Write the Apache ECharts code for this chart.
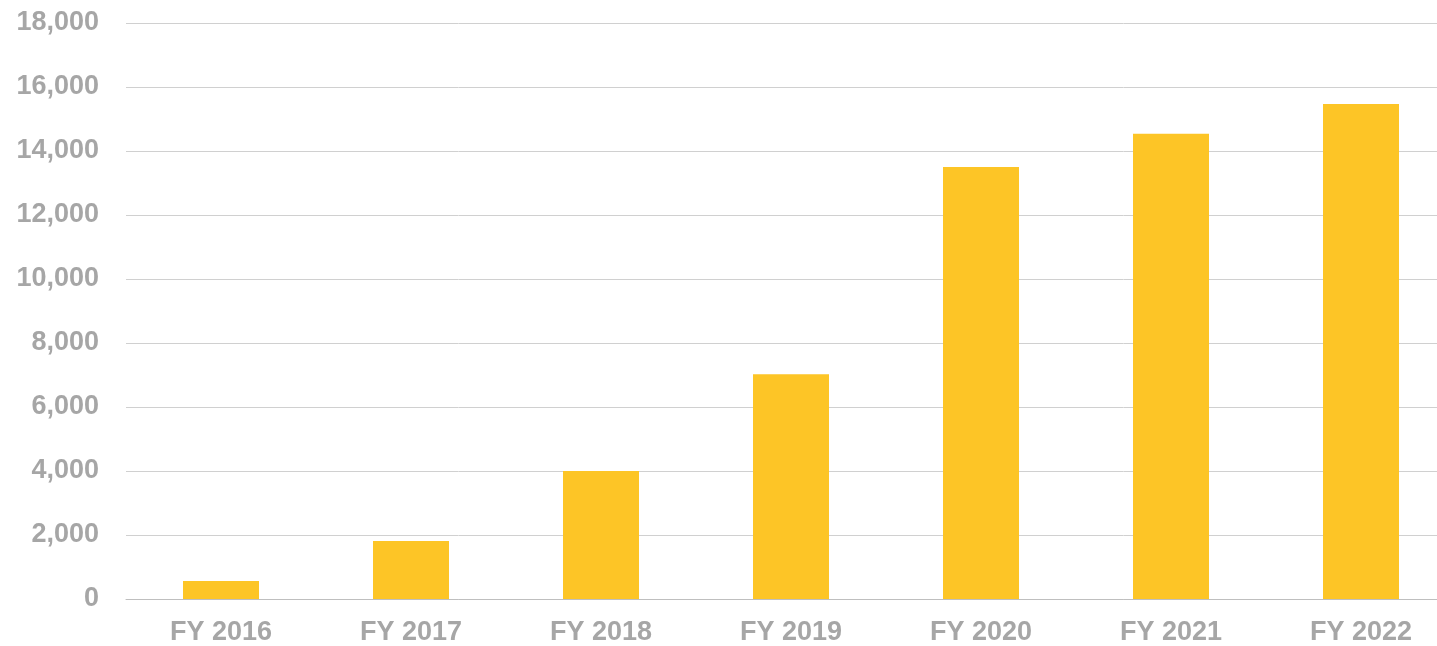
<!DOCTYPE html>
<html>
<head>
<meta charset="utf-8">
<script src="https://cdn.jsdelivr.net/npm/echarts@6/dist/echarts.min.js"></script>
<style>html,body{margin:0;padding:0;background:#fff;overflow:hidden;width:1437px;height:646px}#c{width:1456px;height:646px}</style>
</head>
<body>
<div id="c"></div>
<script>
const categories = ['FY 2016','FY 2017','FY 2018','FY 2019','FY 2020','FY 2021','FY 2022'];
const values = [560, 1810, 4000, 7020, 13500, 14540, 15470];
const yMin = 0, yMax = 18000, yInterval = 2000;

const chart = echarts.init(document.getElementById('c'), null, {renderer:'canvas'});
chart.setOption({
  animation: false,
  grid: {left: 126, right: 0, top: 23, bottom: 46, containLabel: false},
  xAxis: {
    type: 'category',
    data: categories,
    axisTick: {show: false},
    axisLine: {show: true, lineStyle: {color: '#BFBFBF', width: 1}},
    axisLabel: {color: '#A6A6A6', fontFamily: 'Liberation Sans, Arial, sans-serif', fontWeight: 'bold', fontSize: 27, margin: 20}
  },
  yAxis: {
    type: 'value',
    min: yMin, max: yMax, interval: yInterval,
    axisLine: {show: false},
    axisTick: {show: false},
    splitLine: {lineStyle: {color: '#D0D0D0', width: 1}},
    axisLabel: {
      color: '#A6A6A6', fontFamily: 'Liberation Sans, Arial, sans-serif', fontWeight: 'bold', fontSize: 27, margin: 27,
      formatter: v => v.toLocaleString('en-US')
    }
  },
  series: [{
    type: 'bar',
    data: values,
    barWidth: '40%',
    itemStyle: {color: '#FDC526'}
  }]
});
</script>
</body>
</html>
